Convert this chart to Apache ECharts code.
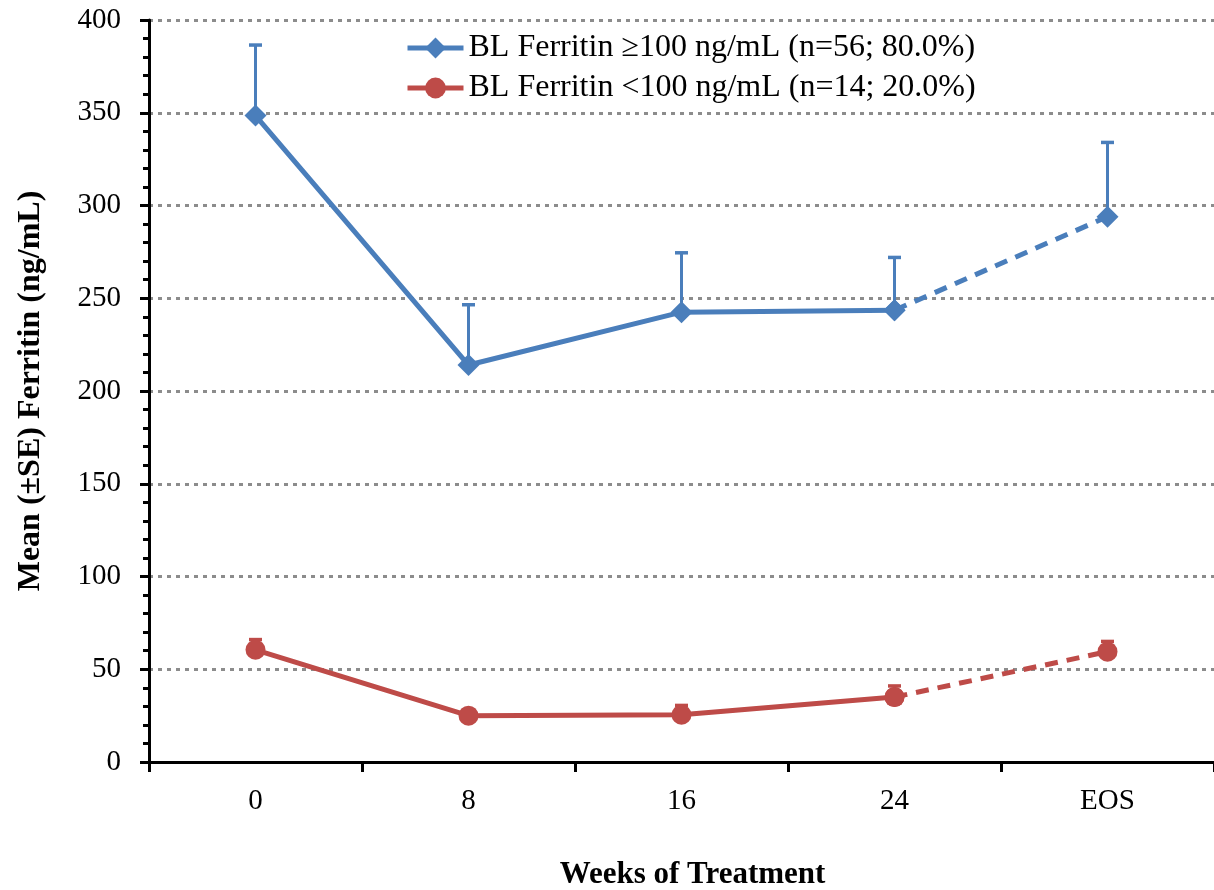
<!DOCTYPE html>
<html><head><meta charset="utf-8">
<script src="https://cdn.jsdelivr.net/npm/echarts@6/dist/echarts.min.js"></script>
<style>html,body{margin:0;padding:0;background:#fff}#c{width:1214px;height:890px}</style>
</head><body><div id="c"></div>
<script>
const categories = ['0', '8', '16', '24', 'EOS'];
const highMean = [348.5, 214, 242.5, 243.5, 294];
const highSE = [38, 32.5, 32, 28.5, 40];
const lowMean = [60.5, 25, 25.5, 35, 59.5];
const lowSE = [5.5, 3, 5, 6, 5.5];
const highName = 'BL Ferritin \u2265100 ng/mL (n=56; 80.0%)';
const lowName = 'BL Ferritin <100 ng/mL (n=14; 20.0%)';
const blue = '#4a7ebb';
const red = '#be4b48';
const font = 'Liberation Serif';

function solidPart(arr){ return arr.map((v,i)=> i < 4 ? v : null); }
function dashPart(arr){ return arr.map((v,i)=> i >= 3 ? v : null); }
function errData(m, s){ return m.map((v,i)=>[i, v, v + s[i]]); }
function errSeries(m, s, color){
  return {
    type: 'custom', silent: true, z: 1,
    data: errData(m, s),
    renderItem: function(params, api){
      const p0 = api.coord([api.value(0), api.value(1)]);
      const p1 = api.coord([api.value(0), api.value(2)]);
      return { type: 'group', children: [
        { type: 'line', shape: {x1: p0[0], y1: p0[1], x2: p1[0], y2: p1[1]}, style: {stroke: color, lineWidth: 3} },
        { type: 'line', shape: {x1: p1[0]-6.5, y1: p1[1], x2: p1[0]+6.5, y2: p1[1]}, style: {stroke: color, lineWidth: 3.5} }
      ]};
    }
  };
}

const chart = echarts.init(document.getElementById('c'));
chart.setOption({
  animation: false,
  textStyle: { fontFamily: font },
  grid: { left: 149, right: 0, top: 20, bottom: 128, outerBoundsMode: 'none', containLabel: false },
  legend: {
    orient: 'vertical', left: 400, top: 26, itemGap: 6,
    itemWidth: 56, itemHeight: 26,
    lineStyle: { width: 5 },
    textStyle: { fontFamily: font, fontSize: 32, color: '#000', lineHeight: 34 },
    data: [highName, lowName]
  },
  xAxis: {
    type: 'category', data: categories, boundaryGap: true,
    name: 'Weeks of Treatment', nameLocation: 'middle', nameGap: 97,
    nameTextStyle: { fontFamily: font, fontSize: 31, fontWeight: 'bold', color: '#000', padding: [0,0,0,22] },
    axisLine: { lineStyle: { color: '#000', width: 3 } },
    axisTick: { show: true, length: 10, lineStyle: { color: '#000', width: 3 }, alignWithLabel: false },
    axisLabel: { fontFamily: font, fontSize: 29, color: '#000', margin: 25 }
  },
  yAxis: {
    type: 'value', min: 0, max: 400, interval: 50,
    name: 'Mean (\u00b1SE) Ferritin (ng/mL)', nameLocation: 'middle', nameGap: 102,
    nameTextStyle: { fontFamily: font, fontSize: 32, fontWeight: 'bold', color: '#000' },
    axisLine: { show: true, lineStyle: { color: '#000', width: 3 } },
    axisTick: { show: true, length: 9, lineStyle: { color: '#000', width: 3 } },
    minorTick: { show: true, splitNumber: 5, length: 6, lineStyle: { color: '#000', width: 3 } },
    axisLabel: { fontFamily: font, fontSize: 29, color: '#000', margin: 28 },
    splitLine: { show: true, lineStyle: { color: '#8c8c8c', width: 3, type: [4, 5] } }
  },
  series: [
    errSeries(highMean, highSE, blue),
    errSeries(lowMean, lowSE, red),
    { name: highName, type: 'line', data: solidPart(highMean), z: 3,
      symbol: 'diamond', symbolSize: 22, itemStyle: { color: blue },
      lineStyle: { color: blue, width: 5 } },
    { name: highName + ' ', type: 'line', data: dashPart(highMean), z: 2,
      symbol: 'diamond', symbolSize: 22, itemStyle: { color: blue },
      lineStyle: { color: blue, width: 5, type: [13, 9] } },
    { name: lowName, type: 'line', data: solidPart(lowMean), z: 3,
      symbol: 'circle', symbolSize: 20, itemStyle: { color: red },
      lineStyle: { color: red, width: 5 } },
    { name: lowName + ' ', type: 'line', data: dashPart(lowMean), z: 2,
      symbol: 'circle', symbolSize: 20, itemStyle: { color: red },
      lineStyle: { color: red, width: 5, type: [13, 9] } }
  ]
});
</script>
</body></html>
